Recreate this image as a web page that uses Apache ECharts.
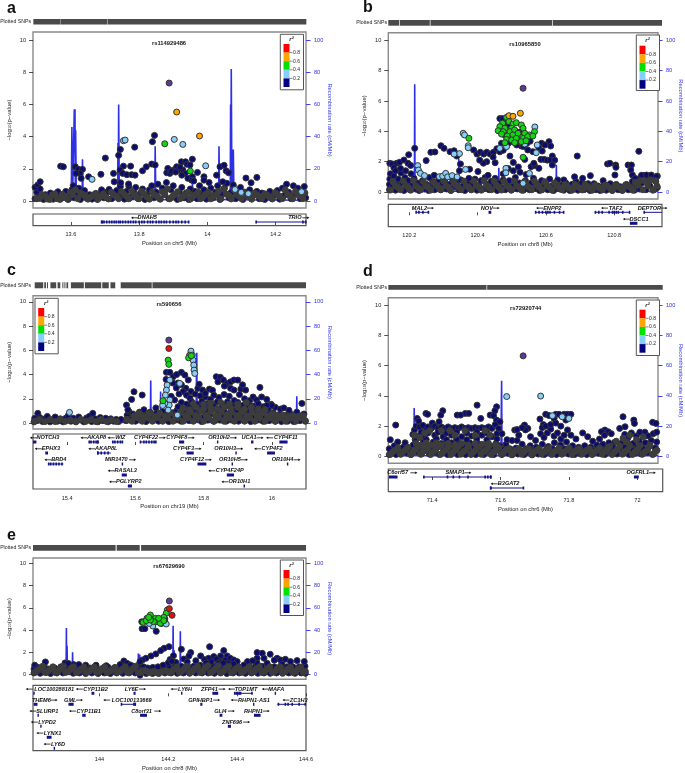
<!DOCTYPE html>
<html><head><meta charset="utf-8">
<script src="https://cdn.jsdelivr.net/npm/echarts@6/dist/echarts.min.js"></script>
<style>html,body{margin:0;padding:0;background:#fff}#c{width:685px;height:773px}</style></head>
<body><div id="c"></div>
<script>
// ---------- Panel a ----------
const aNavy=[13.495,.15,13.5,.55,13.495,.85,13.503,1.0,13.51,1.2,13.51,.75,13.508,.3,13.52,.1,13.525,.4,13.533,.2,13.54,.5,13.548,.12,13.556,.35,13.562,.58,13.57,.15,13.578,.4,13.585,.6,13.592,.1,13.598,.35,13.603,.7,13.607,.95,13.61,.2,13.618,.5,13.623,.8,13.628,.1,13.634,.4,13.64,.65,13.647,.18,13.655,.4,13.662,.12,13.67,.3,13.678,.1,13.685,.45,13.69,.7,13.697,.2,13.705,.55,13.712,.72,13.72,.15,13.727,.42,13.734,.65,13.74,.18,13.745,.9,13.75,.4,13.757,.12,13.763,.6,13.77,.9,13.777,.25,13.784,.55,13.79,.85,13.797,.15,13.804,.5,13.81,.75,13.817,.1,13.824,.4,13.83,.7,13.837,.95,13.843,.2,13.85,.55,13.855,1.05,13.862,.12,13.868,.8,13.875,.4,13.88,1.15,13.887,.15,13.893,.7,13.9,.95,13.905,.3,13.912,.1,13.918,.55,13.925,.85,13.932,.2,13.938,.5,13.945,.1,13.95,.75,13.957,.35,13.964,.6,13.97,.15,13.977,.95,13.984,.4,13.99,.7,13.997,.12,14.003,.45,14.01,.8,14.017,.2,14.024,.55,14.03,.95,14.037,.1,14.043,.4,14.05,.8,14.057,1.1,14.063,.2,14.07,.55,14.076,1.0,14.083,.15,14.09,.45,14.097,.85,14.104,.1,14.11,.55,14.117,.3,14.124,.7,14.13,.12,14.137,.4,14.145,.6,14.152,.15,14.16,.5,14.168,.1,14.175,.35,14.183,.6,14.19,.15,14.198,.4,14.205,.65,14.212,.12,14.22,.8,14.225,.35,14.232,1.05,14.238,.55,14.245,.15,14.252,.95,14.258,.45,14.265,.8,14.272,.15,14.278,.5,14.284,.9,14.288,.2,
13.845,4.08,13.839,3.69,13.787,3.35,13.745,3.21,13.74,2.84,13.701,2.67,13.57,2.17,13.578,2.13,13.613,2.13,13.622,1.97,13.634,1.97,13.627,1.72,13.615,1.72,13.63,1.41,13.652,1.51,13.688,1.66,13.725,1.72,13.754,2.17,13.775,2.17,13.744,1.93,13.752,1.72,13.764,1.64,13.778,1.64,13.788,1.61,13.727,1.2,13.746,1.14,13.769,1.06,13.81,1.88,13.821,2.13,13.837,2.3,13.847,2.24,13.884,2.03,13.881,1.76,13.901,1.93,13.89,1.72,13.91,2.13,13.924,2.44,13.936,2.44,13.956,2.6,13.94,2.28,13.949,2.24,13.915,1.93,13.928,1.93,13.935,1.72,13.925,1.61,13.971,1.78,13.943,1.41,13.956,1.51,13.954,1.3,13.99,1.51,14.027,1.61,14.037,2.13,14.049,2.22,14.055,1.88,14.062,1.76,14.113,1.43,14.145,1.47,14.128,1.14,13.895,1.85,13.907,1.8,13.92,2.1,13.96,1.25,13.99,1.3,14.005,1.15,14.045,1.2];
const aGray=[13.5,.15,13.515,.4,13.53,.13,13.545,.38,13.56,.15,13.575,.42,13.59,.14,13.605,.4,13.62,.15,13.635,.42,13.65,.12,13.665,.38,13.68,.15,13.695,.45,13.71,.13,13.725,.4,13.74,.15,13.755,.45,13.77,.14,13.785,.4,13.8,.15,13.815,.42,13.83,.12,13.845,.38,13.86,.15,13.875,.45,13.89,.14,13.905,.42,13.92,.15,13.935,.38,13.95,.12,13.965,.4,13.98,.15,13.995,.42,14.01,.14,14.025,.38,14.04,.15,14.055,.45,14.07,.13,14.085,.4,14.1,.15,14.115,.38,14.13,.14,14.145,.4,14.16,.15,14.175,.38,14.19,.13,14.205,.42,14.22,.15,14.235,.42,14.25,.14,14.265,.4,14.28,.15,13.508,.16,13.523,.32,13.538,.1,13.553,.45,13.568,.1,13.583,.3,13.598,.55,13.613,.7,13.628,.5,13.643,.3,13.658,.25,13.673,.48,13.688,.3,13.703,.25,13.718,.55,13.733,.28,13.748,.6,13.763,.3,13.778,.62,13.793,.28,13.808,.6,13.823,.25,13.838,.55,13.853,.3,13.868,.58,13.883,.75,13.898,.3,13.913,.58,13.928,.28,13.943,.55,13.958,.3,13.973,.55,13.988,.27,14.003,.55,14.018,.3,14.033,.6,14.048,.75,14.063,.35,14.078,.7,14.093,.3,14.108,.55,14.123,.25,14.138,.5,14.153,.28,14.168,.45,14.183,.25,14.198,.52,14.213,.28,14.228,.7,14.243,.3,14.258,.6,14.273,.3,14.286,.5];
const aBlue=[13.754,3.75,13.759,3.79,13.903,3.83,13.928,3.52,13.995,2.19,14.081,.72,14.099,.54,14.12,.46,14.276,.58,13.662,1.35];
const aGreen=[13.875,3.56,13.95,1.86];
const aOrange=[13.91,5.53,13.977,4.04];
const aRed=[];
const aLead=[13.888,7.33];
const aRecomb=[13.49,.5,13.601,.5,13.603,46,13.605,.8,13.609,1,13.61,57,13.611,30,13.612,57,13.613,5,13.614,44,13.616,.8,13.633,.8,13.634,26,13.636,.8,13.737,1,13.738,36,13.739,5,13.74,60,13.742,1,13.846,1,13.847,34,13.849,1,13.955,.6,13.956,11,13.958,.6,14.033,.8,14.034,34,14.036,.8,14.067,1,14.068,60,14.069,20,14.07,82,14.072,1,14.075,1,14.076,32,14.078,.8,14.29,.5];
const aRug=[13.49,13.57,13.571,13.707,13.708,14.29];
const aGenes=[["DNAH5",13.689,13.947,0,-1,13.815],["TRIO",14.142,14.29,0,1,14.265]];
const aExons=[13.69,13.692,13.697,13.705,13.713,13.72,13.727,13.733,13.74,13.745,13.752,13.76,13.768,13.775,13.783,13.79,13.8,13.808,13.815,13.825,13.833,13.84,13.85,13.858,13.865,13.873,13.88,13.89,13.9,13.908,13.915,13.925,13.935,13.945,14.143,14.28,14.288];

// ---------- Panel b ----------
const bNavy=[120.142,.15,120.142,.5,120.143,.85,120.145,1.2,120.15,.3,120.152,.7,120.155,1.05,120.16,.12,120.163,.5,120.168,.85,120.172,.25,120.176,1.25,120.18,.6,120.185,.1,120.188,.95,120.193,.4,120.198,.75,120.203,.15,120.206,1.2,120.21,.5,120.215,.9,120.22,.2,120.225,.6,120.23,.1,120.235,.45,120.24,.75,120.246,.2,120.252,.5,120.258,.1,120.264,.4,120.27,.7,120.276,.15,120.282,.45,120.288,.8,120.294,.15,120.3,.55,120.306,.8,120.312,.2,120.318,.5,120.324,.1,120.33,.75,120.336,.35,120.342,.6,120.348,.15,120.354,.8,120.36,.4,120.366,.1,120.372,.65,120.378,.9,120.384,.25,120.39,.55,120.396,.85,120.402,.12,120.408,.45,120.414,.75,120.42,.2,120.426,.95,120.432,.5,120.438,.15,120.444,.7,120.45,.35,120.456,.9,120.462,.1,120.468,.6,120.474,.3,120.48,.8,120.486,.15,120.492,.5,120.498,.75,120.504,.12,120.51,.4,120.516,.95,120.522,.2,120.528,.6,120.534,.35,120.54,.12,120.546,.75,120.552,.4,120.558,.15,120.564,.6,120.57,.9,120.576,.25,120.582,.5,120.588,.1,120.594,.75,120.6,.35,120.606,.6,120.612,.15,120.618,.85,120.624,.4,120.63,.1,120.636,.55,120.642,.8,120.648,.2,120.654,.45,120.66,.12,120.666,.6,120.672,.35,120.678,.1,120.684,.5,120.69,.25,120.696,.7,120.702,.12,120.708,.4,120.714,.6,120.72,.15,120.726,.35,120.732,.55,120.738,.1,120.744,.3,120.75,.55,120.756,.15,120.762,.4,120.768,.1,120.774,.3,120.78,.5,120.786,.12,120.792,.35,120.798,.55,120.804,.1,120.81,.3,120.816,.5,120.822,.15,120.828,.35,120.834,.1,120.84,.3,120.846,.5,120.852,.15,120.858,.4,120.864,.7,120.87,.12,120.875,.5,120.88,.85,120.886,.2,120.892,.6,120.898,1.1,120.904,.15,120.91,.75,120.916,.4,120.922,1.05,120.928,.15,120.933,.7,120.938,1.05,120.938,.3,
120.217,2.88,120.295,3.05,120.304,2.88,120.265,2.62,120.277,2.64,120.199,2.46,120.251,2.07,120.322,2.66,120.334,2.72,120.342,2.37,120.353,1.85,120.392,2.77,120.402,2.5,120.412,2.62,120.422,2.5,120.431,2.62,120.441,2.5,120.451,2.62,120.461,2.85,120.431,2,120.421,1.9,120.456,1.93,120.475,3.21,120.5,2.37,120.51,1.95,120.534,3.03,120.544,2.15,120.553,2.77,120.568,2.66,120.594,3.21,120.616,3.32,120.604,3.1,120.586,2.9,120.621,3.03,120.596,2.7,120.626,2.37,120.592,2.15,120.602,2.15,120.611,2.1,120.621,2.1,120.633,2.1,120.7,2.37,120.563,1.67,120.573,1.74,120.571,1.89,120.626,1.78,120.586,1.56,120.79,1.85,120.797,1.89,120.814,1.78,120.815,1.63,120.851,1.78,120.861,1.78,120.859,1.45,120.864,1.12,120.883,2.68,120.739,1.08,120.777,.75,120.812,1.12,120.716,.9,120.692,1.0,120.66,.8,120.872,.9,120.891,1.1,120.906,1.12,120.92,1.12,120.935,1,120.143,1.89,120.15,1.85,120.163,1.89,120.172,1.96,120.185,2.11,120.197,1.89,120.205,1.75,120.155,1.6,120.175,1.55,120.19,1.4,120.16,1.4,120.26,.95,120.275,1.1,120.35,1.4,120.38,1.5,120.405,1.35,120.435,1.1,120.48,1.2,120.51,1.4,120.525,1.65,120.53,1.3,120.548,1.15,120.495,1.55,120.41,2.1,120.45,2.3,120.47,2.65,120.48,2.75,120.52,3.1,120.54,3,
120.47,4.84,120.478,4.84,120.485,4.55,120.495,4.3,120.505,4.1,120.475,4.25,120.485,3.75,120.5,3.6,120.51,3.3,120.52,3.55,120.53,3.95,120.545,3.6,120.53,3.3,120.56,3.35,120.495,3.2,120.55,3.2,120.515,3.8];
const bGray=[120.145,.13,120.16,.42,120.175,.15,120.19,.45,120.205,.12,120.22,.42,120.235,.15,120.25,.4,120.265,.13,120.28,.45,120.295,.15,120.31,.42,120.325,.12,120.34,.45,120.355,.15,120.37,.4,120.385,.14,120.4,.45,120.415,.12,120.43,.42,120.445,.15,120.46,.45,120.475,.13,120.49,.42,120.505,.15,120.52,.4,120.535,.12,120.55,.42,120.565,.15,120.58,.45,120.595,.14,120.61,.4,120.625,.12,120.64,.42,120.655,.15,120.67,.38,120.685,.12,120.7,.35,120.715,.14,120.73,.38,120.745,.12,120.76,.35,120.775,.14,120.79,.38,120.805,.12,120.82,.35,120.835,.14,120.85,.38,120.865,.12,120.88,.45,120.895,.15,120.91,.42,120.925,.12,120.937,.4,120.152,.7,120.168,.28,120.183,.72,120.198,.3,120.213,.75,120.228,.28,120.243,.68,120.258,.3,120.273,.65,120.288,.3,120.303,.72,120.318,.3,120.333,.7,120.348,.3,120.363,.72,120.378,.3,120.393,.72,120.408,.3,120.423,.75,120.438,.3,120.453,.72,120.468,.3,120.483,.7,120.498,.28,120.513,.72,120.528,.3,120.543,.68,120.558,.3,120.573,.72,120.588,.3,120.603,.68,120.618,.3,120.633,.6,120.648,.28,120.663,.5,120.678,.25,120.693,.5,120.708,.25,120.723,.5,120.738,.25,120.753,.45,120.768,.25,120.783,.45,120.798,.25,120.813,.45,120.828,.25,120.843,.45,120.858,.3,120.873,.65,120.888,.75,120.903,.7,120.918,.8,120.933,.75];
const bBlue=[120.361,3.87,120.365,3.76,120.376,3.05,120.376,2.92,120.35,2.53,120.334,2.5,120.574,4.29,120.581,3.1,120.49,2.99,120.47,2.88,120.578,2.59,120.488,1.56,120.488,1.27,120.558,1.23,120.226,1.74,120.228,1.45,120.234,1.23,120.246,1.08,120.368,1.49,120.29,1.01,120.3,1.05,120.309,1.23,120.315,1,120.328,1.08,120.343,1,120.539,.57,120.544,3.16];
const bGreen=[120.49,4.92,120.478,4.53,120.497,4.64,120.509,4.48,120.519,4.57,120.47,4.31,120.485,4.2,120.505,4.2,120.534,4.42,120.465,4.04,120.48,3.98,120.5,3.98,120.514,4.09,120.539,4.2,120.475,3.82,120.492,3.69,120.509,3.76,120.524,3.87,120.544,3.87,120.573,3.98,120.558,3.76,120.49,3.47,120.505,3.43,120.519,3.54,120.539,3.54,120.553,3.65,120.568,3.69,120.485,3.25,120.514,3.25,120.534,3.32,120.548,3.38,120.378,3.54,120.539,2.29];
const bOrange=[120.531,5.19,120.497,5.03,120.509,4.99];
const bRed=[];
const bLead=[120.539,6.84];
const bRecomb=[120.14,.4,120.216,.4,120.217,71,120.218,.4,120.347,.6,120.348,22,120.349,.6,120.379,.6,120.38,8,120.381,.6,120.466,.6,120.467,16,120.468,.6,120.637,.6,120.638,18,120.639,.6,120.94,.4];
const bRug=[120.1385,120.17,120.172,120.26,120.262,120.618,120.62,120.94];
const bGenes=[["MAL2",120.2195,120.2576,0,1,120.2385],["NOV",120.432,120.44,0,1,120.436],["ENPP2",120.568,120.653,0,-1,120.61],["TAF2",120.743,120.846,0,-1,120.795],["DEPTOR",120.887,120.94,0,1,120.912],["DSCC1",120.846,120.868,1,-1,120.864]];
const bExons=[120.22,120.228,120.24,120.256,120.434,120.438,120.57,120.58,120.59,120.6,120.606,120.612,120.625,120.64,120.652,120.745,120.755,120.765,120.785,120.795,120.8,120.806,120.812,120.825,120.845,120.888,120.85,120.855,120.86,120.866];

// ---------- Panel c ----------
const cNavy=[15.303,.1,15.305,.4,15.312,.2,15.314,.8,15.32,.45,15.328,.12,15.335,.35,15.342,.55,15.35,.1,15.358,.3,15.365,.5,15.372,.15,15.38,.35,15.388,.1,15.396,.4,15.403,.6,15.411,.15,15.418,.4,15.426,.1,15.434,.5,15.441,.25,15.449,.1,15.457,.42,15.465,.55,15.472,.12,15.475,.8,15.482,.35,15.49,.1,15.497,.45,15.505,.2,15.513,.4,15.52,.1,15.528,.35,15.536,.15,15.544,.3,15.551,.12,15.558,.3,15.573,.2,15.576,.65,15.581,.95,15.587,.3,15.593,.75,15.6,.15,15.606,.5,15.612,.9,15.618,.25,15.625,.7,15.631,.12,15.637,.55,15.643,.9,15.65,.25,15.656,.6,15.662,.85,15.668,.15,15.674,.55,15.68,.95,15.687,.3,15.692,.7,15.698,.12,15.704,.5,15.71,.85,15.716,.25,15.722,1.05,15.728,.6,15.734,.15,15.74,.45,15.746,.85,15.752,1.15,15.758,.2,15.764,.6,15.77,.95,15.776,.3,15.782,.75,15.788,1.2,15.794,.12,15.8,.5,15.806,.9,15.812,.25,15.818,.65,15.824,1.1,15.83,.15,15.836,.5,15.842,.9,15.848,.25,15.854,.65,15.86,1.05,15.866,.15,15.872,.5,15.878,.85,15.884,.25,15.89,.6,15.896,1,15.902,.15,15.908,.5,15.914,.85,15.92,.2,15.926,.6,15.932,1,15.938,.12,15.944,.5,15.95,.85,15.956,.25,15.962,.6,15.968,1,15.974,.15,15.98,.45,15.986,.8,15.992,.2,15.998,.55,16.004,.85,16.01,.15,16.016,.45,16.022,.7,16.028,.12,16.034,.4,16.04,.65,16.046,.15,16.052,.4,16.058,.7,16.064,.12,16.07,.4,16.076,.7,16.082,.2,16.088,.45,16.094,.75,16.098,.15,
15.596,2.58,15.62,2.31,15.589,1.95,15.574,1.48,15.578,1.1,15.691,4.18,15.701,4.18,15.711,3.82,15.721,4,15.735,4.18,15.745,3.96,15.755,3.55,15.725,3.3,15.837,3.82,15.849,3.77,15.842,3.4,15.858,3.55,15.869,3.27,15.879,3.4,15.889,3.55,15.861,3.05,15.879,2.86,15.889,2.72,15.9,3.54,15.909,2.8,15.923,2.72,15.965,2.94,15.914,3.15,15.783,2.86,15.797,2.72,15.817,2.8,15.763,2.6,15.748,2.86,15.735,3.15,15.787,3.2,15.805,2.15,15.826,2.7,16.088,1.62,16.073,.9,
15.69,3.6,15.71,3.3,15.72,2.9,15.74,2.6,15.75,2.3,15.728,2.4,15.705,2.2,15.76,2.05,15.775,2.4,15.79,2.25,15.805,2.45,15.82,1.95,15.83,2.3,15.845,2.1,15.86,2.35,15.875,2.2,15.89,1.85,15.905,2.35,15.92,2,15.935,1.85,15.945,2.15,15.955,1.9,15.97,2.15,15.985,1.95,15.998,1.55,16.01,1.3,16.025,1.15,16.035,1.25,16.05,1.05,15.715,1.9,15.735,1.7,15.75,1.55,15.765,1.75,15.78,1.55,15.795,1.8,15.81,1.6,15.825,1.55,15.84,1.75,15.855,1.5,15.87,1.75,15.885,1.4,15.9,1.7,15.915,1.45,15.93,1.55,15.945,1.4,15.96,1.6,15.975,1.35,15.99,1.2,16,1.45,15.725,1.35,15.74,1.2,15.76,1.35,15.775,1.15,15.795,1.45,15.81,1.25,15.83,1.4,15.85,1.2,15.865,1.4,15.885,1.15,15.905,1.3,15.925,1.25,15.95,1.2,15.97,1.15,15.985,1.45,15.625,1.1,15.66,1.25];
const cGray=[15.305,.15,15.32,.3,15.335,.12,15.35,.28,15.365,.12,15.38,.3,15.395,.14,15.41,.25,15.425,.12,15.44,.3,15.455,.14,15.47,.28,15.485,.12,15.5,.3,15.515,.14,15.53,.25,15.545,.12,15.575,.3,15.59,.15,15.605,.45,15.62,.15,15.635,.42,15.65,.15,15.665,.45,15.68,.15,15.695,.42,15.71,.15,15.725,.45,15.74,.15,15.755,.42,15.77,.15,15.785,.45,15.8,.15,15.815,.42,15.83,.15,15.845,.45,15.86,.15,15.875,.42,15.89,.15,15.905,.45,15.92,.15,15.935,.42,15.95,.15,15.965,.45,15.98,.15,15.995,.42,16.01,.15,16.025,.42,16.04,.15,16.055,.4,16.07,.15,16.085,.42,16.098,.2,15.597,.6,15.612,.8,15.627,.55,15.642,.8,15.657,.55,15.672,.8,15.687,.55,15.702,.85,15.717,.6,15.732,.9,15.747,.62,15.762,.9,15.777,.62,15.792,1.0,15.807,.65,15.822,.95,15.837,.62,15.852,.92,15.867,.62,15.882,.9,15.897,.62,15.912,.92,15.927,.6,15.942,.9,15.957,.62,15.972,.85,15.987,.6,16.002,.75,16.017,.6,16.032,.65,16.047,.55,16.062,.6,16.077,.55,16.092,.6,15.74,1.25,15.758,1.1,15.778,1.3,15.8,1.2,15.82,1.3,15.84,1.2,15.86,1.3,15.88,1.2,15.9,1.3,15.92,1.15,15.94,1.3,15.96,1.15,15.98,1.1,15.77,1.6,15.8,1.55,15.82,1.65,15.85,1.7,15.875,1.55,15.9,1.55,15.925,1.7];
const cBlue=[15.763,5.93,15.767,5.6,15.769,5.19,15.771,4.78,15.772,4.37,15.774,4.09,15.701,3.54,15.693,3.13,15.691,2.72,15.688,2.31,15.701,1.9,15.699,1.48,15.696,1.07,15.723,.66,15.73,3.27,15.407,.88,15.686,1.62,15.68,1.45];
const cGreen=[15.696,5.19,15.698,4.84,15.759,5.6,15.756,5.38,15.764,5.55,15.681,1.84];
const cOrange=[];
const cRed=[15.698,6.15];
const cLead=[15.698,6.84];
const cRecomb=[15.3,.4,15.547,.4,15.548,5,15.549,.4,15.644,.5,15.645,35,15.646,.5,15.673,.5,15.674,26,15.675,.5,15.778,.5,15.779,40,15.78,58,15.781,.5,16.072,.5,16.073,22,16.074,.5,16.1,.4];
const cRug=[15.305,15.33,15.333,15.338,15.341,15.344,15.351,15.368,15.372,15.38,15.386,15.389,15.392,15.395,15.398,15.403,15.411,15.449,15.452,15.5,15.503,15.522,15.527,15.541,15.557,15.648,15.65,16.1];
const cGenes=[["NOTCH3",15.3,15.31,0,-1,15.335],["AKAP8",15.463,15.492,0,-1,15.478],["WIZ",15.531,15.563,0,-1,15.547],["CYP4F22",15.614,15.66,0,1,15.64],["CYP4F8",15.728,15.743,0,1,15.73],["OR10H2",15.839,15.842,0,1,15.854],["UCA1",15.939,15.946,0,1,15.942],["CYP4F11",16.022,16.046,0,-1,16.032],["EPHX3",15.336,15.344,1,-1,15.344],["AKAP8L",15.489,15.528,1,-1,15.506],["CYP4F3",15.75,15.771,1,1,15.75],["OR10H3",15.893,15.896,1,1,15.872],["CYP4F2",15.986,16.009,1,-1,15.992],["BRD4",15.344,15.389,2,-1,15.367],["MIR1470",15.56,15.562,2,1,15.553],["CYP4F12",15.782,15.808,2,1,15.775],["OR10H5",15.882,15.885,2,1,15.886],["OR10H4",16.044,16.047,2,1,16.04],["RASAL3",15.56,15.575,3,-1,15.563],["CYP4F24P",15.868,15.889,3,-1,15.868],["PGLYRP2",15.578,15.59,4,-1,15.572],["OR10H1",15.917,15.92,4,-1,15.896]];
const cExons=[15.615,15.625,15.632,15.64,15.648,15.655,15.66,15.465,15.47,15.478,15.485,15.49,15.534,15.54,15.548,15.556,15.562,15.346,15.352,15.36,15.368,15.376,15.385,15.99,15.995,16,16.005,16.025,16.032,16.04,15.755,15.762,15.77,15.785,15.79,15.8,15.806,15.87,15.875,15.885,15.49,15.5,15.51,15.52];

// ---------- Panel d ----------
const dNavy=[71.275,.12,71.275,.5,71.278,1.1,71.285,.25,71.29,.7,71.295,.12,71.3,.95,71.305,.4,71.31,.15,71.316,.6,71.322,.9,71.328,.2,71.334,.5,71.34,.12,71.346,.75,71.352,1.1,71.358,.3,71.364,.6,71.37,.15,71.376,.95,71.382,.4,71.388,.75,71.394,.15,71.4,.55,71.406,.95,71.412,.25,71.418,.6,71.424,.12,71.43,.85,71.436,.4,71.442,.7,71.448,.12,71.454,.5,71.46,.9,71.466,.25,71.472,.6,71.478,.12,71.484,.85,71.49,.4,71.496,.7,71.502,.12,71.508,.5,71.514,.9,71.52,.25,71.526,.65,71.532,.12,71.538,.85,71.544,.4,71.55,.7,71.556,.12,71.562,.5,71.568,.9,71.574,.25,71.58,.65,71.586,.12,71.592,.85,71.598,.4,71.604,.7,71.61,.12,71.616,.45,71.622,.8,71.628,.2,71.634,.5,71.64,.1,71.646,.35,71.652,.55,71.658,.15,71.664,.4,71.67,.8,71.676,.12,71.682,.5,71.688,.25,71.694,.7,71.7,.1,71.706,.4,71.712,.6,71.718,.15,71.724,.35,71.73,.8,71.736,.12,71.742,.45,71.748,.65,71.754,.2,71.76,.5,71.766,.9,71.772,.12,71.778,.45,71.784,.75,71.79,.2,71.796,.5,71.802,.95,71.808,.15,71.814,.4,71.82,.7,71.826,.12,71.832,.4,71.838,.6,71.844,.15,71.85,.4,71.856,.7,71.862,.12,71.868,.35,71.874,.6,71.88,.15,71.886,.4,71.892,.75,71.898,.2,71.904,.5,71.91,.8,71.916,.12,71.922,.5,71.928,.9,71.934,.25,71.94,.6,71.946,.95,71.952,.15,71.958,.5,71.964,.85,71.97,.2,71.976,.6,71.982,1,71.988,.12,71.994,.5,72,.85,72.006,.2,72.012,.6,72.018,1,72.024,.15,72.03,.5,72.036,.9,72.042,.25,72.048,.65,72.054,1.05,72.06,.15,72.066,.55,72.07,.95,
71.536,3.39,71.594,3.28,71.589,3.02,71.434,3.02,71.428,2.73,71.384,2.84,71.389,2.78,71.575,2.73,71.585,2.69,71.547,2.51,71.501,2.84,71.511,2.84,71.477,2.73,71.487,2.73,71.294,2.07,71.358,2.51,71.362,2.33,71.423,2.29,71.403,2.2,71.723,2.47,71.74,2.78,71.75,2.7,71.77,2.78,71.78,2.78,71.795,2.78,71.805,2.78,71.815,2.78,71.765,2.5,71.733,2.1,71.73,1.9,71.74,2,71.677,2.07,71.687,1.85,71.648,1.74,71.655,1.77,71.594,2.4,71.604,2.29,71.97,2.62,72.002,2.4,72.004,2.18,71.976,1.96,71.96,1.85,72.058,2.25,72.068,2.18,71.916,1.74,71.906,1.63,71.926,1.63,71.935,1.5,71.915,1.4,
71.345,1.45,71.35,1.75,71.355,2,71.365,1.95,71.375,2.05,71.385,1.75,71.39,1.95,71.4,1.85,71.41,2,71.42,1.85,71.43,1.95,71.44,1.85,71.45,1.95,71.46,1.85,71.47,1.9,71.48,1.85,71.49,1.95,71.5,1.85,71.51,1.9,71.52,1.85,71.53,1.9,71.54,1.85,71.55,1.9,71.56,1.85,71.57,1.95,71.58,1.85,71.59,2.1,71.6,1.85,71.36,1.35,71.37,1.6,71.38,1.3,71.39,1.55,71.41,1.4,71.42,1.6,71.435,1.3,71.445,1.55,71.46,1.4,71.475,1.6,71.49,1.3,71.505,1.55,71.52,1.35,71.535,1.6,71.55,1.4,71.565,1.55,71.58,1.3,71.595,1.5,71.61,1.5,71.625,1.1,71.64,1.05,71.655,1.05,71.68,1.75,71.695,1.3,71.71,1.05,71.725,1.5,71.735,1.25,71.745,1.55,71.755,1.8,71.765,1.35,71.775,1.55,71.785,1.15,71.795,1.4,71.805,1.75,71.815,1.4,71.83,1.15,71.85,1.55,71.865,1.3,71.88,1,71.9,1.15,71.975,1.45,71.985,1.25,71.995,1.55,72.01,1.35,72.02,1.6,72.035,1.6,72.045,1.35,72.06,1.5,72.07,1.6,71.755,2.1,71.77,2.2,71.785,2,71.8,2.4,71.355,1.15,71.385,1.1,71.415,1.15,71.445,1.1,71.475,1.15,71.505,1.1,71.535,1.15,71.565,1.1,71.595,1.15,71.66,1.4,71.67,1.9];
const dGray=[71.278,.13,71.293,.4,71.308,.14,71.323,.42,71.338,.12,71.353,.45,71.368,.14,71.383,.42,71.398,.12,71.413,.45,71.428,.14,71.443,.42,71.458,.12,71.473,.45,71.488,.14,71.503,.42,71.518,.12,71.533,.45,71.548,.14,71.563,.42,71.578,.12,71.593,.45,71.608,.14,71.623,.42,71.638,.12,71.653,.4,71.668,.14,71.683,.42,71.698,.12,71.713,.4,71.728,.14,71.743,.42,71.758,.12,71.773,.4,71.788,.14,71.803,.42,71.818,.12,71.833,.4,71.848,.14,71.863,.42,71.878,.12,71.893,.4,71.908,.14,71.923,.42,71.938,.12,71.953,.45,71.968,.14,71.983,.42,71.998,.12,72.013,.45,72.028,.14,72.043,.42,72.058,.12,72.071,.4,71.285,.28,71.3,.55,71.315,.28,71.33,.6,71.345,.28,71.36,.65,71.375,.3,71.39,.6,71.405,.28,71.42,.65,71.435,.3,71.45,.6,71.465,.28,71.48,.65,71.495,.3,71.51,.65,71.525,.28,71.54,.6,71.555,.3,71.57,.65,71.585,.28,71.6,.6,71.615,.28,71.63,.5,71.645,.28,71.66,.5,71.675,.28,71.69,.5,71.705,.28,71.72,.5,71.735,.28,71.75,.55,71.765,.3,71.78,.55,71.795,.28,71.81,.55,71.825,.28,71.84,.5,71.855,.28,71.87,.5,71.885,.28,71.9,.55,71.915,.28,71.93,.65,71.945,.3,71.96,.7,71.975,.3,71.99,.7,72.005,.28,72.02,.7,72.035,.3,72.05,.75,72.065,.3,71.355,.85,71.37,.75,71.385,.9,71.4,.75,71.415,.9,71.43,.75,71.45,.85,71.47,.75,71.49,.85,71.51,.75,71.53,.85,71.55,.8,71.57,.85,71.59,.75,71.35,1.4,71.365,1.25,71.38,1.55,71.395,1.7,71.43,1.7,71.455,1.7,71.47,1.4,71.5,1.7,71.53,1.4,71.56,1.7,71.575,1.4,71.95,1,71.97,1.2,71.98,.95,71.99,1.4,72.01,1.1,72.03,1.3];
const dBlue=[71.624,3.96,71.725,3.99,71.809,2.51,71.76,2.69,71.789,2.62];
const dGreen=[];
const dOrange=[];
const dRed=[];
const dLead=[71.673,6.65];
const dRecomb=[71.272,.4,71.348,.4,71.349,32,71.35,.4,71.607,.5,71.608,30,71.609,50,71.61,.5,72.074,.4];
const dRug=[71.272,71.559,71.561,72.074];
const dGenes=[["C6orf57",71.274,71.299,0,1,71.308],["SMAP1",71.375,71.572,0,1,71.476],["B3GAT2",71.57,71.667,1,-1,71.615],["OGFRL1",71.99,72.004,0,1,72.01]];
const dExons=[71.275,71.282,71.29,71.298,71.376,71.445,71.462,71.48,71.505,71.555,71.563,71.571,71.572,71.667,71.99,71.995,72,72.003];

// ---------- Panel e ----------
const eNavy=[143.81,.15,143.81,.5,143.812,.85,143.818,.3,143.822,.65,143.828,.12,143.834,.4,143.84,.7,143.846,.2,143.852,.5,143.858,.1,143.864,.35,143.87,.6,143.876,.15,143.882,.4,143.888,.7,143.894,.15,143.9,.45,143.906,.8,143.912,.25,143.918,.55,143.924,.12,143.93,.4,143.936,.7,143.942,.15,143.948,.45,143.954,.65,143.96,.1,143.966,.35,143.972,.6,143.978,.15,143.984,.4,143.99,.7,143.996,.1,144.002,.35,144.008,.55,144.014,.15,144.02,.4,144.026,.65,144.032,.1,144.038,.35,144.044,.6,144.05,.15,144.056,.45,144.062,.7,144.068,.12,144.074,.4,144.08,.7,144.086,.15,144.092,.5,144.098,.75,144.104,.15,144.11,.45,144.116,.95,144.118,-.05,144.124,.35,144.13,.65,144.136,.1,144.142,.3,144.148,.55,144.154,.1,144.16,.3,144.166,.5,144.172,.1,144.178,.3,144.184,.5,144.19,.15,144.196,.4,144.202,.7,144.208,.15,144.214,.45,144.22,.75,144.226,.12,144.232,.4,144.238,.75,144.244,.15,144.25,.5,144.256,.8,144.262,.12,144.268,.45,144.274,.75,144.28,.15,144.286,.5,144.292,.85,144.298,.15,144.304,.5,144.31,.85,144.316,.15,144.322,.55,144.328,.85,144.334,.12,144.34,.5,144.346,.8,144.352,.15,144.358,.45,144.364,.75,144.37,.1,144.376,.4,144.382,.7,144.388,.15,144.394,.45,144.4,.75,144.406,.15,144.412,.4,144.418,.7,144.424,.12,144.43,.4,144.436,.75,144.442,.15,144.448,.45,144.454,.8,144.46,.12,144.466,.45,144.472,.75,144.478,.15,144.484,.4,144.49,.7,144.496,.12,144.502,.4,144.508,.7,144.514,.15,144.52,.45,144.526,.75,144.532,.12,144.538,.4,144.544,.7,144.55,.15,144.556,.4,144.562,.7,144.568,.12,144.574,.4,144.58,.7,144.586,.15,144.592,.4,144.597,.75,144.598,.12,
143.843,1.14,144.124,4.13,144.132,4.13,144.165,3.89,144.202,2.51,144.188,2.37,144.178,2.16,144.164,1.86,144.15,1.68,144.135,1.47,144.125,1.32,144.118,1.17,144.071,1.23,144.08,1.02,144.09,.87,144.32,2.51,144.238,2.28,144.265,1.98,144.26,1.68,144.294,1.68,144.361,2.16,144.352,1.68,144.332,1.62,144.317,1.47,144.371,1.68,144.38,1.47,144.39,1.32,144.4,1.17,144.458,1.98,144.473,1.92,144.496,1.83,144.478,1.47,144.458,1.47,144.516,1.47,144.526,1.32,144.54,1.38,144.555,1.17,144.574,1.26,144.595,1.17,144.43,1.17,144.42,.87,144.458,1.02,144.487,1.02,144.215,1.7,144.205,1.35,144.222,1.1,144.245,1.4,144.255,1.15,144.28,1.25,144.305,1.35,144.325,1.15,144.34,1.4,144.35,1.15,144.365,1.3,144.375,1,144.39,.95,144.31,1.05,144.345,1,144.36,1.05,144.128,.7,144.14,.6,144.155,.65,144.17,.7,144.185,.85,144.2,1.05,144.21,1.2,144.53,.95,144.508,1.3,144.445,1.25,143.9,1.05,143.91,1.0,143.925,.9,143.94,.9,143.96,.85,143.99,.85,144.02,.8,144.06,.9,
144.123,4.75,144.135,4.85,144.145,4.95,144.155,4.95,144.16,4.75,144.17,4.9,144.18,4.6,144.19,5.0];
const eGray=[143.812,.2,143.827,.55,143.842,.2,143.857,.5,143.872,.2,143.887,.55,143.902,.2,143.917,.55,143.932,.2,143.947,.5,143.962,.2,143.977,.5,143.992,.2,144.007,.45,144.022,.2,144.037,.45,144.052,.2,144.067,.5,144.082,.2,144.097,.55,144.112,.2,144.127,.35,144.142,.2,144.157,.3,144.172,.2,144.187,.3,144.202,.2,144.217,.5,144.232,.2,144.247,.55,144.262,.2,144.277,.55,144.292,.2,144.307,.6,144.322,.2,144.337,.55,144.352,.2,144.367,.55,144.382,.2,144.397,.55,144.412,.2,144.427,.5,144.442,.2,144.457,.55,144.472,.2,144.487,.5,144.502,.2,144.517,.55,144.532,.2,144.547,.5,144.562,.2,144.577,.5,144.592,.2,143.82,.35,143.835,.75,143.85,.3,143.865,.7,143.88,.3,143.895,.75,143.91,.3,143.925,.7,143.94,.3,143.955,.7,143.97,.3,143.985,.7,144,.3,144.015,.7,144.03,.3,144.045,.65,144.06,.3,144.075,.7,144.09,.3,144.105,.75,144.12,.2,144.135,.35,144.15,.2,144.165,.2,144.18,.25,144.195,.35,144.21,.3,144.225,.7,144.24,.3,144.255,.75,144.27,.3,144.285,.75,144.3,.3,144.315,.8,144.33,.3,144.345,.8,144.36,.3,144.375,.75,144.39,.3,144.405,.7,144.42,.3,144.435,.7,144.45,.3,144.465,.7,144.48,.3,144.495,.7,144.51,.3,144.525,.7,144.54,.3,144.555,.65,144.57,.3,144.585,.65,144.598,.3];
const eBlue=[144.155,4.37,144.194,4.55,144.145,4.6];
const eGreen=[144.197,5.81,144.194,5.51,144.187,5.15,144.163,5.06,144.148,5.36,144.138,5.06,144.127,4.7,144.136,4.85,144.167,4.76,144.177,4.61,144.157,4.76,144.148,4.91,144.172,5.06,144.187,4.85,144.143,5.15];
const eOrange=[];
const eRed=[144.203,5.93,144.211,5.33];
const eLead=[144.203,6.62];
const eRecomb=[143.807,.3,143.903,.4,143.904,42,143.905,.4,143.906,26,143.907,.4,143.921,.4,143.922,20,143.923,.4,144.112,.4,144.113,19,144.114,3,144.117,18,144.118,.4,144.213,.4,144.214,44,144.215,6,144.217,22,144.218,.4,144.234,.4,144.235,39,144.236,.4,144.6,.3];
const eRug=[143.807,144.047,144.05,144.117,144.121,144.6];
const eGenes=[["LOC100288181",143.808,143.811,0,-1,143.86],["CYP11B2",143.977,143.985,0,-1,143.98],["LY6E",144.099,144.105,0,1,144.102],["LY6H",144.237,144.24,0,-1,144.24],["ZFP41",144.328,144.345,0,1,144.328],["TOP1MT",144.391,144.444,0,-1,144.417],["MAFA",144.509,144.512,0,-1,144.505],["THEM6",143.809,143.82,1,1,143.84],["GML",143.91,143.925,1,1,143.924],["LOC100133669",144.063,144.105,1,-1,144.085],["GPIHBP1",144.293,144.299,1,1,144.302],["RHPN1-AS1",144.446,144.449,1,-1,144.44],["ZC3H3",144.517,144.6,1,-1,144.57],["SLURP1",143.82,143.822,2,-1,143.84],["CYP11B1",143.95,143.96,2,-1,143.96],["C8orf31",144.118,144.138,2,1,144.131],["GLI4",144.349,144.357,2,1,144.36],["RHPN1",144.449,144.468,2,1,144.456],["LYPD2",143.828,143.83,3,-1,143.839],["ZNF696",144.373,144.382,3,1,144.394],["LYNX1",143.847,143.861,4,-1,143.855],["LY6D",143.867,143.869,5,-1,143.871]];
const eExons=[143.98,143.983,144.1,144.104,144.393,144.398,144.402,144.406,144.41,144.443,144.064,144.104,144.52,144.54,144.548,144.56,144.58,144.598,144.12,144.128,144.136,144.45,144.458,144.466,143.912,143.92,143.95,143.958,144.33,144.336,144.342,143.848,143.854,143.86];

// ---------- Tick labels, titles ----------
const yTicks=[0,2,4,6,8,10];
const rateTicks=[0,20,40,60,80,100];
const aTicks=[13.6,13.8,14,14.2], bTicks=[120.2,120.4,120.6,120.8], cTicks=[15.4,15.6,15.8,16], dTicks=[71.4,71.6,71.8,72], eTicks=[144,144.2,144.4,144.6];
const legendBreaks=["0.8","0.6","0.4","0.2"];
const legendColors=["#ff0000","#ffa500","#00e000","#87cefa","#000080"];
const colNavy="#0c0c70",colGray="#3c3c3c",colBlue="#87cefa",colGreen="#10d810",colOrange="#ffa500",colRed="#dd1111",colLead="#5e3a96";

// ---------- Layout ----------
const FONT='"Liberation Sans"';
const panels=[
 {id:"a",snp:"rs114929486",chr:"chr5",navy:aNavy,gray:aGray,blue:aBlue,green:aGreen,orange:aOrange,red:aRed,lead:aLead,rec:aRecomb,rug:aRug,genes:aGenes,ex:aExons,ticks:aTicks,
  x:[13.489,14.289],y:[-.43,10.5],box:[33,32,306,208],gb:[214,225.7],rb:[19,24.5],lab:[31,21.8],let:[7,9],st:[169,43],lg:[280.3,34.3,44],rg:21},
 {id:"b",snp:"rs10965850",chr:"chr8",navy:bNavy,gray:bGray,blue:bBlue,green:bGreen,orange:bOrange,red:bRed,lead:bLead,rec:bRecomb,rug:bRug,genes:bGenes,ex:bExons,ticks:bTicks,
  x:[120.1385,120.94],y:[-.46,10.5],box:[388.3,32.7,662,199],gb:[204.3,226.7],rb:[20,25.7],lab:[387,22.8],let:[363,8],st:[525,44],lg:[636.3,35,45.7],rg:20},
 {id:"c",snp:"rs590656",chr:"chr19",navy:cNavy,gray:cGray,blue:cBlue,green:cGreen,orange:cOrange,red:cRed,lead:cLead,rec:cRecomb,rug:cRug,genes:cGenes,ex:cExons,ticks:cTicks,
  x:[15.3,16.1],y:[-.49,10.5],box:[33,295.7,306,429],gb:[434,489],rb:[282.3,288.3],lab:[31,285.2],let:[7,271],st:[169,304.7],lg:[35,298.3,308],rg:21},
 {id:"d",snp:"rs72920744",chr:"chr6",navy:dNavy,gray:dGray,blue:dBlue,green:dGreen,orange:dOrange,red:dRed,lead:dLead,rec:dRecomb,rug:dRug,genes:dGenes,ex:dExons,ticks:dTicks,
  x:[71.272,72.074],y:[-.46,10.5],box:[388.3,297.7,662.7,463.3],gb:[469,491.7],rb:[285,289.8],lab:[387,287.4],let:[363,272],st:[525.7,308],lg:[636.3,300,309.7],rg:20},
 {id:"e",snp:"rs67629690",chr:"chr8",navy:eNavy,gray:eGray,blue:eBlue,green:eGreen,orange:eOrange,red:eRed,lead:eLead,rec:eRecomb,rug:eRug,genes:eGenes,ex:eExons,ticks:eTicks,
  x:[143.807,144.6],y:[-.42,10.48],box:[33,558,306,679.3],gb:[685.3,750.7],rb:[545,550.7],lab:[31,548],let:[7,536],st:[169,566],lg:[280.3,560,570],rg:21}
];
const pairs=f=>{const o=[];for(let i=0;i+1<f.length;i+=2)o.push([f[i],f[i+1]]);return o;};
const grids=[],xAxes=[],yAxes=[],series=[],graphics=[];
const AX="#222",BL="#2f2fe6",DOT=6;
panels.forEach((p,i)=>{
 const [l,t,r,b]=p.box,w=r-l;
 const gi=grids.length;
 grids.push({left:l,top:t,width:w,height:b-t,show:true,borderColor:"#8a8a8a",borderWidth:1.4,backgroundColor:"#fff"});
 grids.push({left:l,top:p.gb[0],width:w,height:p.gb[1]-p.gb[0],show:true,borderColor:"#555",borderWidth:1.2});
 grids.push({left:l,top:p.rb[0],width:w,height:p.rb[1]-p.rb[0],show:false});
 const xi=xAxes.length;
 const hiddenX=g=>({type:"value",gridIndex:g,min:p.x[0],max:p.x[1],show:false});
 xAxes.push(hiddenX(gi));
 xAxes.push({type:"value",gridIndex:gi+1,min:p.x[0],max:p.x[1],position:"bottom",splitLine:{show:false},
   axisLine:{show:false},axisTick:{show:true,length:3,lineStyle:{color:AX,width:.8},customValues:p.ticks},
   axisLabel:{customValues:p.ticks,fontSize:5.6,color:AX,fontFamily:FONT,margin:6,showMinLabel:true,showMaxLabel:true},
   name:"Position on "+p.chr+" (Mb)",nameLocation:"middle",nameGap:14.5,nameTextStyle:{fontSize:5.8,color:AX,fontFamily:FONT}});
 xAxes.push(hiddenX(gi+2));
 const yi=yAxes.length;
 yAxes.push({type:"value",gridIndex:gi,min:p.y[0],max:p.y[1],position:"left",splitLine:{show:false},
   axisLine:{show:false},axisTick:{show:true,length:4,lineStyle:{color:AX,width:.8},customValues:yTicks},
   axisLabel:{customValues:yTicks,fontSize:5.6,color:AX,fontFamily:FONT,margin:7},
   name:"{n|−log}{s|10}{n|(p−value)}",nameLocation:"middle",nameRotate:90,nameGap:21,nameMoveOverlap:false,
   nameTextStyle:{color:AX,rich:{n:{fontSize:6,fontFamily:FONT,color:AX},s:{fontSize:4,fontFamily:FONT,color:AX,verticalAlign:"bottom"}}}});
 yAxes.push({type:"value",gridIndex:gi,min:p.y[0]*10,max:p.y[1]*10,position:"right",splitLine:{show:false},
   axisLine:{show:false},axisTick:{show:true,length:4.5,lineStyle:{color:BL,width:.9},customValues:rateTicks},
   axisLabel:{customValues:rateTicks,fontSize:5.6,color:BL,fontFamily:FONT,margin:8},
   name:"Recombination rate (cM/Mb)",nameLocation:"middle",nameRotate:-90,nameGap:p.rg,nameMoveOverlap:false,nameTextStyle:{fontSize:5.8,color:BL,fontFamily:FONT}});
 const rows=(p.gb[1]-p.gb[0]);
 yAxes.push({type:"value",gridIndex:gi+1,inverse:true,min:-8/11,max:(rows-8)/11,show:false});
 yAxes.push({type:"value",gridIndex:gi+2,min:0,max:1,show:false});

 series.push({type:"line",xAxisIndex:xi,yAxisIndex:yi+1,data:pairs(p.rec),showSymbol:false,symbol:"none",silent:true,z:1,
   lineStyle:{color:BL,width:1.6},animation:false});
 const dots=(d,c,z,bc)=>series.push({type:"scatter",xAxisIndex:xi,yAxisIndex:yi,data:pairs(d),symbol:"circle",symbolSize:DOT,z:z,silent:true,large:false,
   itemStyle:{color:c,borderColor:bc||"#333",borderWidth:1,opacity:1},animation:false});
 dots(p.navy,colNavy,3);dots(p.gray,colGray,3.5,"#3c3c3c");dots(p.blue,colBlue,4);dots(p.green,colGreen,5);dots(p.orange,colOrange,6);dots(p.red,colRed,6);dots(p.lead,colLead,7);

 // rug
 const rugRows=[];for(let k=0;k+1<p.rug.length;k+=2)rugRows.push([p.rug[k],p.rug[k+1]]);
 series.push({type:"custom",xAxisIndex:xi+2,yAxisIndex:yi+3,data:rugRows,silent:true,animation:false,z:2,
   renderItem:(pr,api)=>{const a=api.coord([api.value(0),1]),c=api.coord([api.value(1),0]);
     return {type:"rect",shape:{x:a[0],y:a[1],width:Math.max(c[0]-a[0],1),height:c[1]-a[1]},style:{fill:"#4a4a4a"}};}});
 // genes
 series.push({type:"custom",xAxisIndex:xi+1,yAxisIndex:yi+2,data:p.genes.map(g=>[g[1],g[2],g[3],g[5]]),silent:true,animation:false,z:3,
   renderItem:(pr,api)=>{const g=p.genes[pr.dataIndex];
     const s=api.coord([api.value(0),api.value(2)]),e=api.coord([api.value(1),api.value(2)]),tc=api.coord([api.value(3),api.value(2)]);
     const ww=Math.max(e[0]-s[0],1.4),small=ww<9,d=g[4],ty=s[1]-4.2,half=g[0].length*1.75;
     const cx=tc[0]-d*3,a0=cx+d*(half+.5),a1=cx+d*(half+6.5);
     const kids=[{type:"rect",shape:{x:s[0],y:s[1]-(small?1.5:.5),width:ww,height:small?3:1},style:{fill:"#12128a"}},
       {type:"text",style:{x:cx,y:ty,text:g[0],font:"italic bold 5.6px "+FONT,fill:"#111",align:"center",verticalAlign:"middle"}},
       {type:"line",shape:{x1:a0,y1:ty,x2:a1,y2:ty},style:{stroke:"#111",lineWidth:.8}},
       {type:"polygon",shape:{points:[[a1+d*1,ty],[a1-d*1.2,ty-1.2],[a1-d*1.2,ty+1.2]]},style:{fill:"#111"}}];
     p.ex.forEach(v=>{if(v>=g[1]&&v<=g[2]&&!small){const q=api.coord([v,api.value(2)]);kids.push({type:"rect",shape:{x:q[0]-.8,y:s[1]-1.5,width:1.6,height:3},style:{fill:"#12128a"}});}});
     return {type:"group",children:kids};}});

 // texts
 const T=(x,y,text,font,fill,align)=>graphics.push({type:"text",z:50,x:x,y:y,silent:true,style:{text:text,font:font,fill:fill||"#111",textAlign:align||"center",textVerticalAlign:"middle"}});
 T(p.let[0],p.let[1],p.id,"bold 16px "+FONT,"#111","left");
 T(p.lab[0],p.lab[1],"Plotted SNPs","5.2px "+FONT,"#222","right");
 T(p.st[0],p.st[1],p.snp,"bold 5.8px "+FONT,"#111");
 // r2 legend
 const [lx,ly,ct]=p.lg, cx=lx+3.2;
 graphics.push({type:"rect",z:50,silent:true,shape:{x:lx,y:ly,width:23.2,height:55.5},style:{fill:"#fff",stroke:"#555",lineWidth:1}});
 legendColors.forEach((c,k)=>graphics.push({type:"rect",z:51,silent:true,shape:{x:cx,y:ct+k*8.6,width:6,height:8.6},style:{fill:c}}));
 legendBreaks.forEach((s,k)=>{const yy=ct+(k+1)*8.6;
   graphics.push({type:"line",z:51,silent:true,shape:{x1:cx+6,y1:yy,x2:cx+9,y2:yy},style:{stroke:"#333",lineWidth:.6}});
   T(cx+9.5,yy,s,"5px "+FONT,"#222","left");});
 graphics.push({type:"text",z:51,silent:true,x:lx+11.2,y:ly+5,style:{text:"r²",font:"italic bold 6px "+FONT,fill:"#111",textAlign:"center",textVerticalAlign:"middle"}});
});
const chart=echarts.init(document.getElementById("c"),null,{renderer:"canvas",width:685,height:773});
chart.setOption({animation:false,backgroundColor:"#fff",grid:grids,xAxis:xAxes,yAxis:yAxes,series:series,graphic:{elements:graphics}});
</script></body></html>
